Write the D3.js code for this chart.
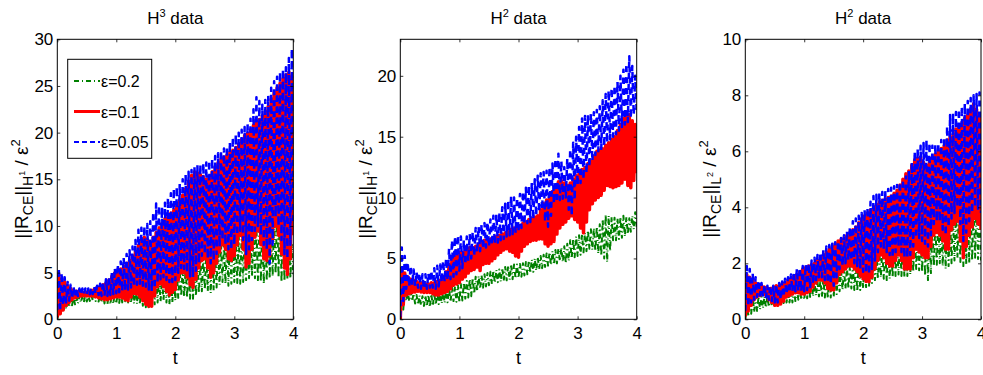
<!DOCTYPE html>
<html>
<head>
<meta charset="utf-8">
<script src="https://cdn.jsdelivr.net/npm/d3@7"></script>
<style>
  body { margin: 0; background: #fff; }
  text { font-family: "Liberation Sans Narrow", "Liberation Sans", Arial, sans-serif; fill: #000; }
  .domain { display: none; }
  .tick line { stroke: #000; stroke-width: 0.8; }
</style>
</head>
<body>
<svg width="983" height="375"></svg>
<script>
// lo = values at t = 0, 0.05, ..., 4.0 ; hi = values at t = 0.025, 0.075, ..., 3.975
// panel 1 : H^3 data, ||R_CE||_H1 / eps^2
const p1GreenLo = [0,0.4,0.8,1.1,1.3,1.5,1.6,1.7,1.8,1.85, 1.9,1.95,2.0,1.95,1.9,1.8,1.7,1.65,1.6,1.65, 1.7,1.75,1.8,1.8,1.8,1.75,1.7,1.65,1.6,1.45,
  1.3,1.3,1.4,1.6,1.8,1.9,2.0,1.8,1.6,1.8, 2.0,2.3,2.5,2.4,2.3,2.2,2.2,2.5,2.8,3.0, 3.2,3.0,2.8,3.1,3.4,3.7,4.0,3.8,3.6,3.8,
  4.0,3.9,3.8,4.0,4.2,4.4,4.6,4.4,4.2,4.0, 3.8,4.1,4.4,4.6,4.9,4.5,4.0,4.1,4.3,4.4,4.6];
const p1GreenHi = [1.8,2.1,2.2,2.3,2.35,2.4,2.45,2.5,2.55,2.6, 2.65,2.7,2.75,2.8,2.8,2.8,2.8,2.8,2.9,3.0, 3.1,3.2,3.3,3.4,3.5,3.6,3.6,3.6,3.7,3.8,
  3.9,4.0,4.1,4.2,4.3,4.5,4.6,4.8,4.9,5.0, 5.1,5.3,5.4,5.6,5.8,6.0,6.1,6.3,6.5,6.8, 7.0,7.2,7.3,7.5,7.8,8.0,8.2,8.5,8.8,9.0,
  9.0,9.0,9.1,9.3,9.4,9.5,9.8,10.0,10.2,10.5, 10.2,10.0,10.5,11.0,12.0,13.0,12.0,11.0,9.5,8.0];
const p1RedLo = [0.2,0.6,1.0,1.5,1.8,2.1,2.3,2.4,2.5,2.5, 2.5,2.5,2.5,2.4,2.3,2.2,2.1,2.1,2.2,2.3, 2.4,2.4,2.3,2.1,2.0,2.4,2.8,2.7,2.4,2.0,
  1.6,1.4,1.4,2.5,3.5,3.8,3.5,3.0,2.6,2.9, 3.2,4.2,5.0,5.0,4.5,3.7,3.4,4.3,5.5,6.3, 6.5,5.5,4.5,5.0,6.0,7.2,8.0,7.5,6.5,6.3,
  6.8,8.0,9.0,7.5,5.6,6.0,7.5,8.8,9.5,8.0, 6.5,6.3,6.8,8.5,10.0,9.0,7.0,5.5,4.8,6.5,9.0];
const p1RedHi = [4.8,4.3,4.0,3.6,3.3,3.1,3.0,3.0,2.9,2.9, 3.0,3.1,3.2,3.4,3.5,3.7,3.9,4.2,4.6,5.0, 5.2,5.4,5.7,6.0,6.3,6.8,7.3,7.9,8.5,8.8,
  8.6,8.3,8.8,9.3,9.8,10.3,10.8,11.2,11.4,11.7, 12.2,12.8,13.3,14.0,14.8,15.4,15.8,15.7,15.5,15.3, 15.0,15.2,15.8,16.3,16.8,17.2,17.4,17.6,17.9,18.1,
  18.4,18.8,19.3,19.7,19.9,20.3,20.8,21.2,21.4,21.8, 22.3,22.8,23.6,24.3,24.8,25.3,25.8,26.2,26.5,26.0];
const p1BlueLo = [1.0,1.2,1.5,1.8,2.0,2.2,2.4,2.5,2.6,2.7, 2.7,2.7,2.7,2.7,2.6,2.5,2.5,2.5,2.6,2.7, 2.8,2.9,3.0,3.1,3.2,3.4,3.5,3.7,3.8,3.6,
  3.5,3.2,3.0,3.3,3.9,4.3,4.5,4.2,4.0,4.0, 4.2,5.0,5.5,5.4,5.0,4.6,4.5,5.2,6.0,6.8, 7.0,6.5,6.0,6.3,7.0,7.8,8.5,8.0,7.5,7.5,
  8.0,9.0,9.5,8.5,7.0,7.5,8.5,9.5,10.0,9.0, 8.0,7.5,6.0,8.0,11.0,10.0,8.5,7.0,6.5,8.0,10.0];
const p1BlueHi = [5.5,5.0,4.5,4.0,3.7,3.5,3.4,3.3,3.3,3.3, 3.3,3.4,3.5,3.6,3.8,4.0,4.3,4.6,5.0,5.5, 5.9,6.2,6.6,7.0,7.4,7.8,8.5,9.6,9.8,10.0,
  10.2,10.5,11.5,12.4,12.2,12.0,12.5,13.0,13.5,14.0, 14.2,14.5,15.0,15.5,15.8,16.0,16.3,16.5,16.6,16.7, 16.8,17.0,17.2,17.5,17.8,18.1,18.3,18.5,19.0,19.5,
  19.8,20.0,20.3,20.6,21.0,21.5,22.5,23.8,23.4,23.0, 23.5,24.0,24.8,25.5,26.0,26.5,26.8,27.0,28.0,29.0];

// panel 2 : H^2 data, ||R_CE||_H1 / eps^2
const p2GreenLo = [0,0.8,1.5,1.5,1.5,1.3,1.2,1.15,1.1,1.05, 1.0,1.1,1.2,1.25,1.3,1.35,1.4,1.45,1.5,1.45, 1.4,1.55,1.7,1.8,1.9,2.1,2.3,2.5,2.6,2.7,
  2.8,2.9,3.0,3.05,3.1,3.15,3.2,3.25,3.3,3.35, 3.4,3.5,3.6,3.7,3.8,3.9,4.0,4.1,4.2,4.3, 4.4,4.45,4.5,4.6,4.8,4.7,4.6,4.8,5.0,5.1,
  5.2,5.3,5.5,5.6,5.8,5.7,5.6,5.4,5.2,5.0, 4.7,5.6,6.5,6.5,6.6,6.7,6.8,7.0,7.2,7.4,7.6];
const p2GreenHi = [2.4,2.5,2.3,2.2,2.1,2.0,1.95,1.9,1.95,2.0, 2.05,2.1,2.15,2.2,2.3,2.4,2.5,2.6,2.7,2.8, 2.9,3.0,3.15,3.3,3.4,3.5,3.55,3.6,3.7,3.8,
  3.9,4.0,4.05,4.1,4.2,4.3,4.4,4.5,4.5,4.5, 4.55,4.6,4.7,4.8,4.9,5.0,5.1,5.2,5.3,5.4, 5.5,5.6,5.7,5.8,5.9,6.0,6.2,6.5,6.6,6.8,
  6.9,7.0,7.1,7.3,7.4,7.5,7.6,7.8,8.2,8.6, 8.5,8.4,8.35,8.3,8.4,8.5,8.4,8.3,8.5,8.8];
const p2RedLo = [0,1.2,2.0,2.1,2.2,2.25,2.3,2.25,2.2,2.2, 2.2,2.1,2.0,2.0,2.1,2.2,2.3,2.5,2.8,2.9, 3.0,3.3,3.5,3.8,4.0,4.1,4.3,4.0,4.5,4.6,
  4.6,4.8,5.0,5.3,5.5,5.7,5.8,5.6,5.5,5.2, 5.1,5.6,6.0,6.2,6.4,6.5,6.5,6.6,6.6,6.2, 6.0,6.2,6.4,7.0,7.5,7.8,8.0,8.3,8.5,8.2,
  8.0,7.5,7.1,8.0,9.0,9.5,9.8,10.0,10.2,10.6, 11.0,10.9,10.8,10.9,11.0,11.2,11.5,11.0,10.8,11.4,12.0];
const p2RedHi = [4.2,3.8,3.5,3.3,3.2,3.1,3.0,3.0,2.9,2.9, 3.0,3.0,3.1,3.2,3.5,3.9,4.5,5.0,5.5,5.6, 5.5,5.5,5.8,5.9,5.9,6.0,6.2,6.4,6.5,6.5,
  6.6,6.7,6.8,6.9,7.0,7.1,7.2,7.4,7.5,7.6, 7.7,7.9,8.0,8.2,8.3,8.4,8.5,9.0,9.5,9.8, 10.0,10.5,11.0,11.3,11.4,11.2,11.0,11.2,11.5,11.8,
  12.0,12.3,12.5,12.8,13.0,13.4,13.8,13.9,14.0,14.3, 14.5,14.8,15.0,15.5,16.0,16.5,17.0,16.8,16.3,16.0];
const p2BlueLo = [0.2,1.5,2.5,2.7,2.8,2.7,2.6,2.5,2.5,2.5, 2.6,2.6,2.5,2.7,3.0,3.1,3.2,3.3,3.5,3.7, 4.0,4.2,4.5,4.8,5.0,5.2,5.5,5.6,5.8,5.9,
  6.0,6.1,6.2,6.3,6.5,6.6,6.8,6.9,7.0,7.1, 7.2,7.5,7.8,7.9,8.0,8.2,8.5,8.8,9.0,8.0, 7.6,8.5,9.5,9.6,9.8,9.9,10.0,9.0,8.5,9.8,
  11.0,11.2,11.5,12.0,12.5,13.0,13.5,13.8,14.0,14.2, 14.5,14.8,15.0,15.2,15.5,15.8,16.0,16.2,16.5,16.8,17.0];
const p2BlueHi = [5.9,5.2,4.7,4.4,4.1,3.9,3.8,3.7,3.7,3.8, 4.0,4.2,4.4,4.5,4.8,5.0,5.8,6.5,6.8,6.9, 6.8,6.5,6.8,7.0,7.2,7.5,7.6,7.8,7.9,8.0,
  8.2,8.5,8.6,8.8,9.2,9.5,9.8,10.1,10.0,10.0, 10.3,10.5,10.8,11.0,11.2,11.5,11.8,12.0,12.1,12.2, 12.5,12.8,13.2,13.6,13.0,12.5,13.2,14.0,14.5,15.0,
  15.8,16.5,16.7,16.8,16.9,17.0,17.2,17.5,18.0,18.5, 18.8,19.0,19.2,19.5,20.0,20.5,21.0,21.6,20.8,20.0];

// panel 3 : H^2 data, ||R_CE||_L2 / eps^2
const p3GreenLo = [0,0.1,0.2,0.25,0.3,0.35,0.4,0.42,0.45,0.48, 0.5,0.52,0.55,0.58,0.6,0.6,0.6,0.65,0.7,0.7, 0.7,0.75,0.8,0.82,0.85,0.82,0.8,0.78,0.75,0.78,
  0.8,0.9,1.0,1.05,1.1,1.1,1.1,1.05,1.0,1.05, 1.1,1.15,1.2,1.3,1.4,1.45,1.5,1.45,1.4,1.45, 1.5,1.55,1.6,1.55,1.5,1.55,1.6,1.7,1.8,1.75,
  1.7,1.55,1.4,1.65,1.9,1.95,2.0,1.9,1.8,1.9, 2.0,2.1,2.2,2.05,1.9,1.95,2.0,2.1,2.2,2.15,2.1];
const p3GreenHi = [0.8,0.9,0.85,0.8,0.8,0.8,0.82,0.85,0.88,0.9, 0.92,0.95,0.98,1.0,1.02,1.05,1.08,1.1,1.15,1.2, 1.22,1.25,1.28,1.3,1.35,1.4,1.45,1.5,1.55,1.6,
  1.65,1.7,1.75,1.8,1.85,1.9,1.95,2.0,2.05,2.1, 2.15,2.2,2.25,2.3,2.35,2.4,2.45,2.5,2.55,2.6, 2.7,2.8,2.85,2.9,2.95,3.0,3.1,3.2,3.25,3.3,
  3.4,3.5,3.45,3.4,3.45,3.5,3.55,3.6,3.65,3.7, 3.75,3.8,3.85,3.9,3.95,4.0,4.1,4.2,4.35,4.5];
const p3RedLo = [0.1,0.3,0.5,0.7,0.8,0.85,0.9,0.85,0.7,0.6, 0.5,0.5,0.55,0.65,0.8,0.85,0.9,0.95,0.95,0.9, 0.9,0.95,1.0,1.15,1.3,1.4,1.4,1.3,1.1,1.05,
  1.05,1.3,1.6,1.7,1.8,1.9,1.9,1.8,1.7,1.55, 1.45,1.35,1.34,1.5,1.8,2.1,2.3,2.2,2.0,1.9, 1.9,2.1,2.3,2.1,1.8,1.8,1.8,2.2,2.5,2.4,
  2.3,2.2,2.2,2.6,3.0,3.1,3.0,2.8,2.5,2.5, 3.2,3.4,3.5,2.8,2.2,2.6,3.0,3.3,3.6,3.4,3.2];
const p3RedHi = [1.6,1.5,1.4,1.3,1.25,1.2,1.15,1.1,1.1,1.15, 1.2,1.2,1.25,1.3,1.4,1.45,1.55,1.6,1.7,1.8, 1.85,1.9,1.95,2.0,2.1,2.2,2.3,2.4,2.5,2.6,
  2.7,2.8,2.85,2.9,3.0,3.1,3.2,3.3,3.45,3.6, 3.7,3.8,3.9,4.0,4.1,4.2,4.25,4.3,4.35,4.4, 4.5,4.6,4.8,5.0,5.2,5.3,5.5,5.7,5.75,5.8,
  5.6,5.5,5.6,5.8,5.9,6.0,6.1,6.2,6.4,6.5, 6.6,6.8,6.9,7.0,7.2,7.3,7.5,7.7,7.5,7.2];
const p3BlueLo = [0.3,0.45,0.6,0.7,0.8,0.85,0.8,0.75,0.7,0.65, 0.6,0.6,0.7,0.8,0.9,0.95,1.0,1.0,1.0,1.0, 1.0,1.05,1.1,1.25,1.4,1.5,1.5,1.4,1.3,1.25,
  1.2,1.5,1.8,1.9,2.0,2.1,2.1,2.0,1.9,1.8, 1.7,1.65,1.6,1.8,2.1,2.4,2.6,2.5,2.4,2.3, 2.2,2.4,2.6,2.4,2.2,2.2,2.3,2.6,2.9,2.9,
  2.8,2.7,2.6,3.0,3.4,3.5,3.5,3.2,3.0,3.3, 3.6,3.8,4.0,3.4,2.8,3.1,3.5,3.8,4.0,3.9,3.8];
const p3BlueHi = [1.9,1.8,1.65,1.5,1.4,1.3,1.25,1.2,1.2,1.2, 1.25,1.3,1.35,1.45,1.5,1.6,1.7,1.8,1.85,1.9, 1.95,2.0,2.1,2.2,2.3,2.4,2.5,2.6,2.65,2.7,
  2.75,2.8,2.9,3.0,3.15,3.3,3.5,3.6,3.7,3.8, 3.9,4.0,4.2,4.4,4.45,4.5,4.55,4.6,4.65,4.7, 4.75,4.8,4.9,5.0,5.1,5.3,5.6,6.0,6.1,6.2,
  6.3,6.4,6.3,6.2,6.25,6.3,6.4,6.5,6.9,7.3, 7.35,7.4,7.5,7.6,7.7,7.8,7.9,8.0,8.05,8.1];

const xTicks = [0, 1, 2, 3, 4];
const p1YTicks = [0, 5, 10, 15, 20, 25, 30];
const p2YTicks = [0, 5, 10, 15, 20];
const p3YTicks = [0, 2, 4, 6, 8, 10];
const legendLabels = ['ε=0.2', 'ε=0.1', 'ε=0.05'];

const styles = [
  {color: '#008000', width: 2, dash: '5,3,1,3'},
  {color: '#ff0000', width: 3.5, dash: null},
  {color: '#0000ff', width: 2.5, dash: '6,5'}
];

const svg = d3.select('svg');

// lo / hi pairs -> oscillating series
function series(lo, hi) {
  const pts = [];
  lo.forEach((v, i) => {
    pts.push([i * 0.05, v]);
    if (i < hi.length) pts.push([i * 0.05 + 0.025, hi[i]]);
  });
  return pts;
}

const panels = [
  {left: 57.3, right: 293.3, ymax: 30, yTicks: p1YTicks, title: '3', sub: 'H', sup: '1', labelX: 28,
   data: [series(p1GreenLo, p1GreenHi), series(p1RedLo, p1RedHi), series(p1BlueLo, p1BlueHi)], legend: true},
  {left: 400.3, right: 636.7, ymax: 23, yTicks: p2YTicks, title: '2', sub: 'H', sup: '1', labelX: 372,
   data: [series(p2GreenLo, p2GreenHi), series(p2RedLo, p2RedHi), series(p2BlueLo, p2BlueHi)]},
  {left: 745.3, right: 981, ymax: 10, yTicks: p3YTicks, title: '2', sub: 'L', sup: '2', labelX: 716,
   data: [series(p3GreenLo, p3GreenHi), series(p3RedLo, p3RedHi), series(p3BlueLo, p3BlueHi)]}
];

const plotTop = 39.3, plotBottom = 319.3;

panels.forEach((p, k) => {
  const x = d3.scaleLinear().domain([0, 4]).range([p.left, p.right]);
  const y = d3.scaleLinear().domain([0, p.ymax]).range([plotBottom, plotTop]);
  const g = svg.append('g');

  g.append('clipPath').attr('id', 'clip' + k)
    .append('rect').attr('x', p.left).attr('y', plotTop)
    .attr('width', p.right - p.left).attr('height', plotBottom - plotTop);

  const line = d3.line().x(d => x(d[0])).y(d => y(d[1]));
  const lines = g.append('g').attr('clip-path', `url(#clip${k})`);
  p.data.forEach((d, i) => {
    lines.append('path')
      .attr('d', line(d))
      .attr('fill', 'none')
      .attr('stroke', styles[i].color)
      .attr('stroke-width', styles[i].width)
      .attr('stroke-linejoin', 'round')
      .attr('stroke-dasharray', styles[i].dash);
  });

  // axes, ticks inside like matlab
  g.append('g').attr('transform', `translate(0,${plotBottom})`)
    .call(d3.axisBottom(x).tickValues(xTicks).tickSize(-3).tickPadding(8).tickFormat(d3.format('d')))
    .selectAll('text').attr('font-size', 17);
  g.append('g').attr('transform', `translate(0,${plotTop})`)
    .call(d3.axisTop(x).tickValues(xTicks).tickSize(-3).tickFormat(''));
  g.append('g').attr('transform', `translate(${p.left},0)`)
    .call(d3.axisLeft(y).tickValues(p.yTicks).tickSize(-3).tickPadding(4).tickFormat(d3.format('d')))
    .selectAll('text').attr('font-size', 17);
  g.append('g').attr('transform', `translate(${p.right},0)`)
    .call(d3.axisRight(y).tickValues(p.yTicks).tickSize(-3).tickFormat(''));

  g.append('rect')
    .attr('x', p.left).attr('y', plotTop)
    .attr('width', p.right - p.left).attr('height', plotBottom - plotTop)
    .attr('fill', 'none').attr('stroke', '#000').attr('stroke-width', 1);

  const cx = (p.left + p.right) / 2;

  // title
  const t = g.append('text').attr('x', cx).attr('y', 24)
    .attr('text-anchor', 'middle').attr('font-size', 17);
  t.append('tspan').text('H');
  t.append('tspan').attr('dy', -7).attr('font-size', 11).text(p.title);
  t.append('tspan').attr('dy', 7).text(' data');

  // x label
  g.append('text').attr('x', cx).attr('y', 364)
    .attr('text-anchor', 'middle').attr('font-size', 18).text('t');

  // y label
  const yl = g.append('text')
    .attr('transform', `translate(${p.labelX},189) rotate(-90)`)
    .attr('text-anchor', 'middle').attr('font-size', 19);
  yl.append('tspan').text('||R');
  yl.append('tspan').attr('dy', 5).attr('font-size', 14).text('CE');
  yl.append('tspan').attr('dy', -5).text('||');
  yl.append('tspan').attr('dy', 5).attr('font-size', 14).text(p.sub);
  yl.append('tspan').attr('dy', -8).attr('font-size', 9).text(p.sup);
  yl.append('tspan').attr('dy', 3).text(' / ε');
  yl.append('tspan').attr('dy', -8).attr('font-size', 13).text('2');

  if (p.legend) {
    const lg = g.append('g');
    lg.append('rect').attr('x', 67.7).attr('y', 59.3)
      .attr('width', 84).attr('height', 99)
      .attr('fill', '#fff').attr('stroke', '#000').attr('stroke-width', 1);
    legendLabels.forEach((lab, i) => {
      const ly = 81 + i * 30.5;
      lg.append('line').attr('x1', 74).attr('x2', 100).attr('y1', ly).attr('y2', ly)
        .attr('stroke', styles[i].color).attr('stroke-width', i === 1 ? 3 : 2.2)
        .attr('stroke-dasharray', i === 2 ? '5,3' : styles[i].dash);
      lg.append('text').attr('x', 101).attr('y', ly + 6)
        .attr('font-size', 16).text(lab);
    });
  }
});
</script>
</body>
</html>
